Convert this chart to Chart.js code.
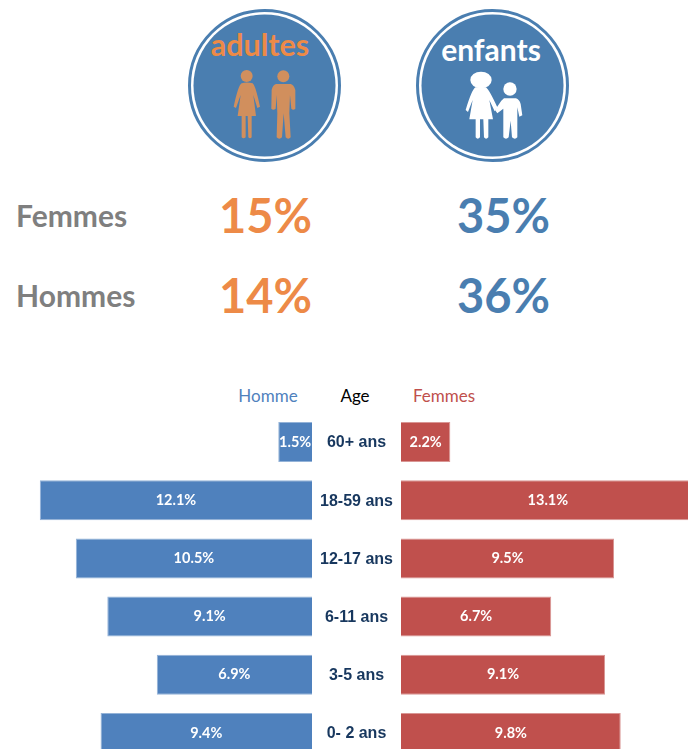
<!DOCTYPE html>
<html lang="fr">
<head>
<meta charset="utf-8">
<title>Adultes et enfants</title>
<script src="https://cdn.jsdelivr.net/npm/chart.js@4"></script>
<style>
html, body { margin: 0; padding: 0; background: #fff; }
body { position: relative; width: 688px; height: 749px; overflow: hidden; font-family: Lato, sans-serif; }
.txt { position: absolute; white-space: nowrap; line-height: 1; }
.rowName { color: #7f7f7f; font-weight: 700; font-size: 30px; left: 16px; }
.pct { font-weight: 700; font-size: 47px; transform: translateX(-50%); }
.head { font-size: 17px; transform: translateX(-50%); }
#icons { position: absolute; left: 0; top: 0; }
#leftBox { position: absolute; left: 0; top: 413px; width: 401px; height: 349px; }
#rightBox { position: absolute; left: 401px; top: 413px; width: 287px; height: 349px; }
</style>
</head>
<body>
<svg id="icons" width="688" height="170">
  <defs><filter id="soft"><feGaussianBlur stdDeviation="1.2"/></filter></defs>
  <circle cx="264.5" cy="85.5" r="75" fill="#fff" stroke="#4a7eb0" stroke-width="3"/>
  <circle cx="264.5" cy="85.5" r="71" fill="#4a7eb0"/>
  <circle cx="492.5" cy="85.5" r="75" fill="#fff" stroke="#4a7eb0" stroke-width="3"/>
  <circle cx="492.5" cy="85.5" r="71" fill="#4a7eb0"/>
  <!-- pictos adultes -->
  <g transform="translate(170,0) scale(0.3333)" fill="#d18f5d" filter="url(#soft)">
    <circle cx="230" cy="228" r="18"/>
    <path d="M215 250 Q230 245 248 250 Q256 255 270 320 L262 324 L250 285 L258 348 L245 348 L245 412 Q240 418 235 412 L233 348 L227 348 L227 412 Q220 418 215 412 L215 348 L203 348 L212 285 L198 324 L191 320 Q205 255 215 250Z"/>
    <circle cx="340" cy="229" r="18"/>
    <path d="M318 252 L362 252 Q372 255 376 270 L376 326 Q370 332 364 326 L360 285 L358 340 L362 412 Q355 420 347 412 L341 340 L336 412 Q328 420 320 412 L322 340 L320 285 L317 326 Q310 332 304 326 L305 270 Q308 255 318 252Z"/>
  </g>
  <!-- pictos enfants -->
  <g transform="translate(400,0) scale(0.3333)" fill="#fff" filter="url(#soft)">
    <ellipse cx="243" cy="240" rx="32" ry="25"/>
    <path d="M226 262 L258 262 Q268 270 292 322 L284 334 L268 300 L279 358 L265 358 L265 412 Q258 420 252 412 L250 358 L240 358 L240 412 Q233 420 227 412 L227 358 L208 358 L218 300 L204 336 L197 330 Q215 270 226 262Z"/>
    <circle cx="330" cy="267" r="20"/>
    <path d="M312 295 L348 295 Q358 298 362 312 L367 346 L358 350 L352 322 L352 412 Q345 420 336 412 L332 362 L326 412 Q318 420 310 412 L310 326 L292 340 L285 330 L304 302 Z"/>
  </g>
</svg>
<div id="leftBox"><canvas id="hommeChart"></canvas></div>
<div id="rightBox"><canvas id="femmeChart"></canvas></div>
<script>
// tranches d'age, du haut vers le bas
const ageLabels = ["60+ ans", "18-59 ans", "12-17 ans", "6-11 ans", "3-5 ans", "0- 2 ans"];
const hommeValues = [1.5, 12.1, 10.5, 9.1, 6.9, 9.4];
const femmeValues = [2.2, 13.1, 9.5, 6.7, 9.1, 9.8];

// haut de la page
const topHeads = ["adultes", "enfants"];
const rowNames = ["Femmes", "Hommes"];
const adultesPct = ["15%", "14%"];
const enfantsPct = ["35%", "36%"];
const headerNames = ["Homme", "Age", "Femmes"];

const orange = "#ed8a47";
const blue = "#4a7eb0";

function addText(cls, text, left, top, style) {
    const el = document.createElement("div");
    el.className = "txt " + cls;
    el.textContent = text;
    if (left !== null) el.style.left = left + "px";
    el.style.top = top + "px";
    Object.assign(el.style, style || {});
    document.body.appendChild(el);
}

addText("pct", topHeads[0], 260, 29, {color: orange, fontSize: "30.5px"});
addText("pct", topHeads[1], 491, 34, {color: "#fff", fontSize: "30px"});

const rowTops = [200, 280];
rowTops.forEach((top, i) => {
    addText("rowName", rowNames[i], null, top);
    addText("pct", adultesPct[i], 265.5, top - 8, {color: orange});
    addText("pct", enfantsPct[i], 503.5, top - 8, {color: blue});
});

addText("head", headerNames[0], 268, 387, {color: "#4f81bd"});
addText("head", headerNames[1], 355, 387, {color: "#000"});
addText("head", headerNames[2], 444, 387, {color: "#c0504d"});

// pourcentage en blanc au milieu de chaque barre
const barLabels = {
    id: "barLabels",
    afterDatasetsDraw(chart) {
        const ctx = chart.ctx;
        const meta = chart.getDatasetMeta(0);
        ctx.save();
        ctx.fillStyle = "#fff";
        ctx.font = "700 14.5px Lato";
        ctx.textAlign = "center";
        ctx.textBaseline = "middle";
        meta.data.forEach((bar, i) => {
            const value = chart.data.datasets[0].data[i];
            const center = bar.getCenterPoint();
            ctx.fillText(value.toFixed(1) + "%", center.x, center.y);
        });
        ctx.restore();
    }
};

// colonne des ages entre les deux series, placee avec l'echelle y
const ageColumn = {
    id: "ageColumn",
    afterDraw(chart) {
        const ctx = chart.ctx;
        const y = chart.scales.y;
        ctx.save();
        ctx.fillStyle = "#17375e";
        ctx.font = "700 16px 'Liberation Sans'";
        ctx.textAlign = "center";
        ctx.textBaseline = "middle";
        ageLabels.forEach((label, i) => {
            ctx.fillText(label, (chart.chartArea.right + chart.width) / 2, y.getPixelForValue(i) + 1);
        });
        ctx.restore();
    }
};

function makeOptions(xMax, reverse, rightPad) {
    return {
        indexAxis: "y",
        responsive: true,
        maintainAspectRatio: false,
        animation: false,
        layout: {padding: {left: 0, top: 0, bottom: 0, right: rightPad}},
        plugins: {legend: {display: false}, tooltip: {enabled: false}},
        scales: {
            x: {display: false, min: 0, max: xMax, reverse: reverse},
            y: {display: false, offset: true}
        }
    };
}

new Chart("hommeChart", {
    type: "bar",
    data: {
        labels: ageLabels,
        datasets: [{
            data: hommeValues,
            backgroundColor: "#4f81bd",
            borderColor: "#94b3d8",
            borderWidth: 1,
            barPercentage: 0.687,
            categoryPercentage: 1
        }]
    },
    options: makeOptions(13.87, true, 89),
    plugins: [barLabels, ageColumn]
});

new Chart("femmeChart", {
    type: "bar",
    data: {
        labels: ageLabels,
        datasets: [{
            data: femmeValues,
            backgroundColor: "#c0504d",
            borderColor: "#d99694",
            borderWidth: 1,
            barPercentage: 0.687,
            categoryPercentage: 1
        }]
    },
    options: makeOptions(12.8, false, 0),
    plugins: [barLabels]
});
</script>
</body>
</html>
